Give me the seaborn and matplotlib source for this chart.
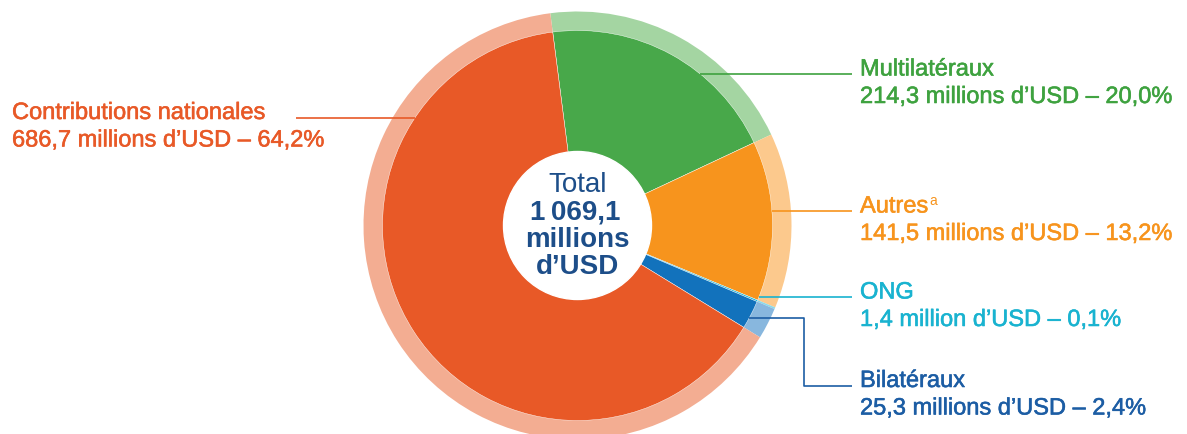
import numpy as np
import matplotlib
matplotlib.use("Agg")
import matplotlib.pyplot as plt
import matplotlib.patheffects as pe
import seaborn as sns

# data
categories = ["Multilatéraux", "Autres", "ONG", "Bilatéraux", "Contributions nationales"]
values = [214.3, 141.5, 1.4, 25.3, 686.7]
percents = [20.0, 13.2, 0.1, 2.4, 64.2]
units = ["millions", "millions", "million", "millions", "millions"]
total = 1069.1

dark = ["#48A84A", "#F7941D", "#1AB4D3", "#1272BC", "#E85927"]
light = ["#A4D5A2", "#FCC98D", "#8CD9E9", "#88B7DE", "#F3AD92"]
text_col = ["#3EA23F", "#F7941D", "#19B3D0", "#1C5DA4", "#E85927"]
navy = "#1D4E89"

sns.set_theme(style="white")
plt.rcParams["font.family"] = ["Liberation Sans", "DejaVu Sans"]

W, H = 1187, 435
fig = plt.figure(figsize=(W / 100, H / 100), dpi=100)
ax = fig.add_axes([0, 0, 1, 1])

cx, cy = 577.5, H - 226.5
r_out, r_in, r_hole = 214, 195, 74

ax.pie(values, radius=r_out, center=(cx, cy), startangle=97.3, counterclock=False,
       colors=light, wedgeprops=dict(linewidth=0))
ax.pie(values, radius=r_in, center=(cx, cy), startangle=97.3, counterclock=False,
       colors=dark, wedgeprops=dict(linewidth=0.3, edgecolor="white"))
ax.add_patch(plt.Circle((cx, cy), r_hole, color="white", zorder=5))

ax.set_xlim(0, W)
ax.set_ylim(0, H)
ax.set_aspect("equal")
ax.axis("off")


def fmt(v, sep=" "):
    return f"{v:,.1f}".replace(",", sep).replace(".", ",")


# centre text
ax.text(cx, H - 192, "Total", ha="center", va="baseline", fontsize=20, color=navy, zorder=6)
ax.text(cx - 2, H - 220, fmt(total, "\u2009"), ha="center", va="baseline", fontsize=20,
        fontweight="bold", color=navy, zorder=6)
ax.text(cx, H - 247, "millions", ha="center", va="baseline", fontsize=20,
        fontweight="bold", color=navy, zorder=6)
ax.text(cx, H - 274, "d\u2019USD", ha="center", va="baseline", fontsize=20,
        fontweight="bold", color=navy, zorder=6)


def edge_x(y_line, side):
    dy = (H - y_line) - cy
    return cx + side * np.sqrt(r_in ** 2 - dy ** 2)


# label layout: line y in pixels from top
line_y = [75, 212, 298, 319, 119]
lw = 1.2
fs = 17
gap = 27.5
for i, cat in enumerate(categories):
    y = line_y[i]
    c = text_col[i]
    fx = [pe.withStroke(linewidth=0.4, foreground=c)]
    second = f"{fmt(values[i])} {units[i]} d\u2019USD \u2013 {fmt(percents[i])}%"
    if cat == "Contributions nationales":
        x0 = edge_x(y, -1)
        ax.plot([296, x0], [H - y, H - y], color=c, lw=lw, zorder=4, solid_capstyle="butt")
        tx, ty = 12, y + 1
    elif cat == "Bilatéraux":
        x0 = edge_x(y, 1)
        ax.plot([x0, 804, 804, 852], [H - y, H - y, H - 387, H - 387], color=c, lw=lw,
                zorder=4, solid_capstyle="butt")
        tx, ty = 860, 388
    else:
        x0 = edge_x(y, 1)
        ax.plot([x0, 852], [H - y, H - y], color=c, lw=lw, zorder=4, solid_capstyle="butt")
        tx, ty = 860, y + 1.5
    t = ax.text(tx, H - ty, cat, ha="left", va="baseline", fontsize=fs, color=c, path_effects=fx)
    ax.text(tx, H - ty - gap, second, ha="left", va="baseline", fontsize=fs, color=c, path_effects=fx)
    if cat == "Autres":
        ax.annotate("a", xy=(1, 1), xycoords=t, xytext=(0.5, 1.5), textcoords="offset points",
                    ha="left", va="top", fontsize=10, color=c)

fig.savefig("out.png", dpi=100)
